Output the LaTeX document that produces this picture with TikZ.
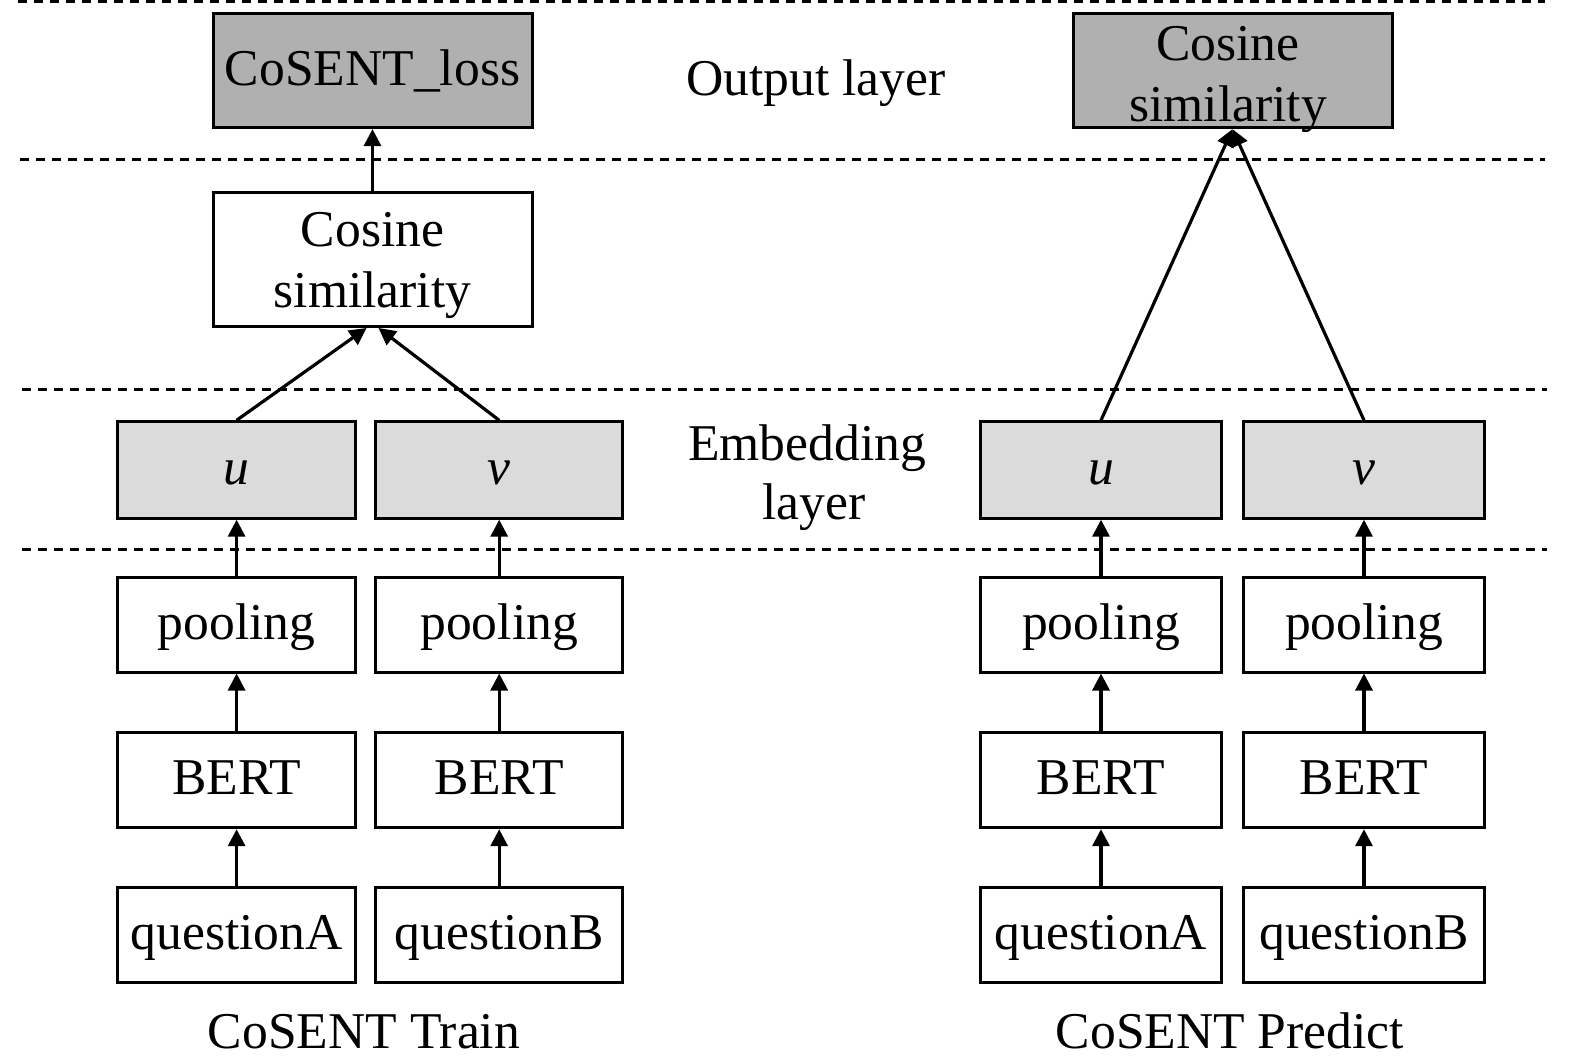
\documentclass[tikz,border=0pt]{standalone}
\usepackage{fontspec}
\setmainfont{Liberation Serif}
\usetikzlibrary{arrows.meta}
\definecolor{boxdark}{gray}{0.69}
\definecolor{boxlight}{gray}{0.86}
\begin{document}
\begin{tikzpicture}[x=0.5pt,y=-0.5pt,
  txt/.style={font=\fontsize{25.8}{30.5}\selectfont, inner sep=0pt, align=center},
  box/.style={txt, draw=black, line width=1.5pt, text height=20pt, text depth=5.5pt},
  dark/.style={box, fill=boxdark},
  light/.style={box, fill=boxlight},
  sepline/.style={line width=1.5pt, dash pattern=on 4.5pt off 3.5pt},
  arr/.style={line width=1.6pt, -{Triangle[length=8.5pt,width=8.5pt]}}]
\useasboundingbox (0,0) rectangle (1575,1064);
% separators
\draw[sepline] (18,1.5) -- (1545,1.5);
\draw[sepline] (20,159.5) -- (1545,159.5);
\draw[sepline] (22,389.8) -- (1547,389.8);
\draw[sepline] (22,549.5) -- (1547,549.5);
% left: train
\node[dark, minimum width=159.5pt, minimum height=56.8pt] (loss) at (372.5,70.8) {CoSENT\_loss};
\node[draw=black, line width=1.5pt, inner sep=0pt, minimum width=159.5pt, minimum height=66.8pt] (cosL) at (372.5,259.7) {};
\node[txt] (cosLt) at (372.5,265) {Cosine\\similarity};
\node[light, minimum width=119pt, minimum height=48.2pt] (uL) at (236.6,470) {\itshape u};
\node[light, minimum width=123.5pt, minimum height=48.2pt] (vL) at (499.2,470) {\itshape v};
\node[box, minimum width=119pt, minimum height=47.2pt] (pA) at (236.6,624.8) {pooling};
\node[box, minimum width=123.5pt, minimum height=47.2pt] (pB) at (499.2,624.8) {pooling};
\node[box, minimum width=119pt, minimum height=47.7pt] (bA) at (236.6,780) {BERT};
\node[box, minimum width=123.5pt, minimum height=47.7pt] (bB) at (499.2,780) {BERT};
\node[box, minimum width=119pt, minimum height=47.7pt] (qA) at (236.6,934.7) {questionA};
\node[box, minimum width=123.5pt, minimum height=47.7pt] (qB) at (499.2,934.7) {questionB};
% right: predict
\node[draw=black, fill=boxdark, line width=1.5pt, inner sep=0pt, minimum width=159.5pt, minimum height=56.8pt] (cosR) at (1232.5,70.8) {};
\node[txt] (cosRt) at (1228,79) {Cosine\\similarity};
\node[light, minimum width=120.5pt, minimum height=48.2pt] (uR) at (1101,470) {\itshape u};
\node[light, minimum width=120.5pt, minimum height=48.2pt] (vR) at (1364,470) {\itshape v};
\node[box, minimum width=120.5pt, minimum height=47.2pt] (pC) at (1101,624.8) {pooling};
\node[box, minimum width=120.5pt, minimum height=47.2pt] (pD) at (1364,624.8) {pooling};
\node[box, minimum width=120.5pt, minimum height=47.7pt] (bC) at (1101,780) {BERT};
\node[box, minimum width=120.5pt, minimum height=47.7pt] (bD) at (1364,780) {BERT};
\node[box, minimum width=120.5pt, minimum height=47.7pt] (qC) at (1101,934.7) {questionA};
\node[box, minimum width=120.5pt, minimum height=47.7pt] (qD) at (1364,934.7) {questionB};
% labels
\node[txt, anchor=base] (outl) at (816,95.5) {Output layer};
\node[txt, anchor=base] (emb1) at (807,460) {Embedding};
\node[txt, anchor=base] (emb2) at (814,519) {layer};
\node[txt, anchor=base] (trn) at (364,1048) {CoSENT Train};
\node[txt, anchor=base] (prd) at (1230,1048) {CoSENT Predict};
% connectors
\foreach \a/\b in {qA/bA, bA/pA, pA/uL, qB/bB, bB/pB, pB/vL, qC/bC, bC/pC, pC/uR, qD/bD, bD/pD, pD/vR, cosL/loss}
  \draw[arr] (\a.north) -- (\b.south);
\draw[arr] (uL.north) -- ([xshift=-3pt]cosL.south);
\draw[arr] (vL.north) -- ([xshift=3pt]cosL.south);
\draw[arr] (uR.north) -- (cosR.south);
\draw[arr] (vR.north) -- (cosR.south);
\end{tikzpicture}
\end{document}
